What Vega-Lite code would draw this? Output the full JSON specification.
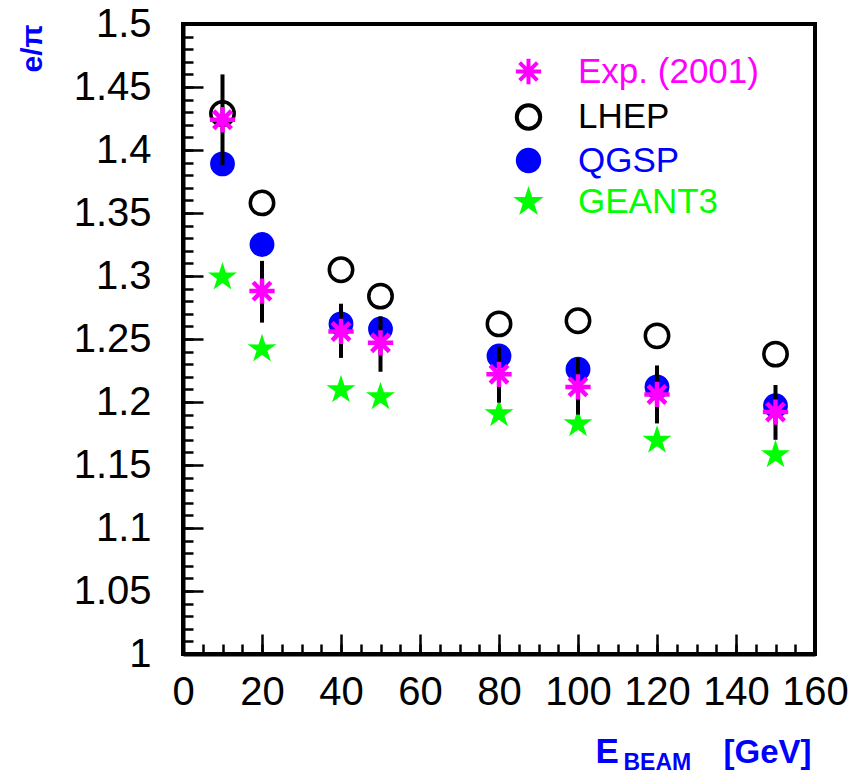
{
  "$schema": "https://vega.github.io/schema/vega-lite/v6.json",
  "width": 632,
  "height": 630,
  "autosize": "none",
  "padding": {"left": 183, "top": 24, "right": 40, "bottom": 120},
  "background": "white",
  "config": {
    "font": "Liberation Sans",
    "view": {"stroke": "black", "strokeWidth": 4},
    "axis": {"grid": false, "labelFont": "Liberation Sans", "titleFont": "Liberation Sans", "tickColor": "black", "domainColor": "black", "labelColor": "black"},
    "legend": {"title": null, "orient": "none", "legendX": 328, "legendY": 30, "labelFontSize": 35, "labelOffset": 32, "rowPadding": 3.5, "labelFont": "Liberation Sans", "labelLimit": 0, "symbolStrokeWidth": 4}
  },
  "datasets": {
    "sim": [
      {"E": 10, "series": "GEANT3", "ratio": 1.299},
      {"E": 20, "series": "GEANT3", "ratio": 1.242},
      {"E": 40, "series": "GEANT3", "ratio": 1.2095},
      {"E": 50, "series": "GEANT3", "ratio": 1.204},
      {"E": 80, "series": "GEANT3", "ratio": 1.1905},
      {"E": 100, "series": "GEANT3", "ratio": 1.1825},
      {"E": 120, "series": "GEANT3", "ratio": 1.1695},
      {"E": 150, "series": "GEANT3", "ratio": 1.158},
      {"E": 10, "series": "LHEP", "ratio": 1.429},
      {"E": 20, "series": "LHEP", "ratio": 1.358},
      {"E": 40, "series": "LHEP", "ratio": 1.305},
      {"E": 50, "series": "LHEP", "ratio": 1.284},
      {"E": 80, "series": "LHEP", "ratio": 1.262},
      {"E": 100, "series": "LHEP", "ratio": 1.2645},
      {"E": 120, "series": "LHEP", "ratio": 1.2525},
      {"E": 150, "series": "LHEP", "ratio": 1.238},
      {"E": 10, "series": "QGSP", "ratio": 1.389},
      {"E": 20, "series": "QGSP", "ratio": 1.325},
      {"E": 40, "series": "QGSP", "ratio": 1.262},
      {"E": 50, "series": "QGSP", "ratio": 1.258},
      {"E": 80, "series": "QGSP", "ratio": 1.2365},
      {"E": 100, "series": "QGSP", "ratio": 1.226},
      {"E": 120, "series": "QGSP", "ratio": 1.212},
      {"E": 150, "series": "QGSP", "ratio": 1.197}
    ],
    "exp": [
      {"E": 10, "series": "Exp. (2001)", "ratio": 1.424, "lo": 1.388, "hi": 1.46},
      {"E": 20, "series": "Exp. (2001)", "ratio": 1.288, "lo": 1.263, "hi": 1.312},
      {"E": 40, "series": "Exp. (2001)", "ratio": 1.256, "lo": 1.235, "hi": 1.278},
      {"E": 50, "series": "Exp. (2001)", "ratio": 1.247, "lo": 1.224, "hi": 1.268},
      {"E": 80, "series": "Exp. (2001)", "ratio": 1.222, "lo": 1.1995, "hi": 1.244},
      {"E": 100, "series": "Exp. (2001)", "ratio": 1.212, "lo": 1.19, "hi": 1.235},
      {"E": 120, "series": "Exp. (2001)", "ratio": 1.206, "lo": 1.183, "hi": 1.229},
      {"E": 150, "series": "Exp. (2001)", "ratio": 1.192, "lo": 1.17, "hi": 1.2135}
    ]
  },
  "layer": [
    {
      "data": {"name": "sim"},
      "mark": {"type": "point", "filled": false, "strokeWidth": 3.5, "opacity": 1},
      "encoding": {
        "x": {
          "field": "E", "type": "quantitative",
          "scale": {"domain": [0, 160], "nice": false, "zero": false},
          "axis": {
            "orient": "bottom", "values": [0, 20, 40, 60, 80, 100, 120, 140, 160],
            "tickSize": -20, "tickWidth": 2.5, "domainWidth": 4,
            "labelFontSize": 40, "labelPadding": 38, "labelOverlap": false, "labelFlush": false, "labelBound": false,
            "title": "E", "titleColor": "#0000ff", "titleFontSize": 35, "titleFontWeight": "bold",
            "titleAlign": "left", "titleBaseline": "alphabetic", "titleX": 412, "titleY": 108
          }
        },
        "y": {
          "field": "ratio", "type": "quantitative",
          "scale": {"domain": [1, 1.5], "nice": false, "zero": false},
          "axis": {
            "orient": "left", "values": [1, 1.05, 1.1, 1.15, 1.2, 1.25, 1.3, 1.35, 1.4, 1.45, 1.5],
            "format": ".2~f", "tickSize": -20, "tickWidth": 2.5, "domainWidth": 4,
            "labelFontSize": 40, "labelPadding": 52, "labelOverlap": false, "labelFlush": false, "labelBound": false,
            "title": "e/π", "titleColor": "#0000ff", "titleFontSize": 30, "titleFontWeight": "bold",
            "titleAngle": -90, "titleAlign": "right", "titleBaseline": "middle", "titleX": -151, "titleY": 0
          }
        },
        "color": {
          "field": "series", "type": "nominal",
          "scale": {"domain": ["Exp. (2001)", "LHEP", "QGSP", "GEANT3"], "range": ["#ff00ff", "#000000", "#0000ff", "#00ff00"]},
          "legend": {"labelColor": {"expr": "scale('color', datum.value)"}}
        },
        "fill": {
          "field": "series", "type": "nominal",
          "scale": {"domain": ["Exp. (2001)", "LHEP", "QGSP", "GEANT3"], "range": ["transparent", "transparent", "#0000ff", "#00ff00"]},
          "legend": {"labelColor": {"expr": "scale('color', datum.value)"}}
        },
        "shape": {
          "field": "series", "type": "nominal",
          "scale": {"domain": ["Exp. (2001)", "LHEP", "QGSP", "GEANT3"], "range": ["M-1,0L1,0M0,-1L0,1M-0.7,-0.7L0.7,0.7M-0.7,0.7L0.7,-0.7", "circle", "circle", "M0,-1L0.224,-0.307L0.951,-0.309L0.361,0.117L0.588,0.809L0,0.38L-0.588,0.809L-0.361,0.117L-0.951,-0.309L-0.224,-0.307Z"]},
          "legend": {"labelColor": {"expr": "scale('color', datum.value)"}}
        },
        "size": {
          "field": "series", "type": "nominal",
          "scale": {"domain": ["Exp. (2001)", "LHEP", "QGSP", "GEANT3"], "range": [640, 363, 300, 480]},
          "legend": {"labelColor": {"expr": "scale('color', datum.value)"}}
        }
      }
    },
    {
      "data": {"name": "exp"},
      "mark": {"type": "rule", "strokeWidth": 4, "color": "black"},
      "encoding": {
        "x": {
          "field": "E", "type": "quantitative",
          "axis": {
            "orient": "bottom", "values": [0, 5, 10, 15, 20, 25, 30, 35, 40, 45, 50, 55, 60, 65, 70, 75, 80, 85, 90, 95, 100, 105, 110, 115, 120, 125, 130, 135, 140, 145, 150, 155, 160],
            "tickSize": -10, "tickWidth": 2.5, "domain": false, "labels": false,
            "title": "BEAM", "titleColor": "#0000ff", "titleFontSize": 23, "titleFontWeight": "bold",
            "titleAlign": "left", "titleBaseline": "alphabetic", "titleX": 440, "titleY": 115
          }
        },
        "y": {
          "field": "lo", "type": "quantitative",
          "axis": {
            "orient": "left", "values": [1, 1.01, 1.02, 1.03, 1.04, 1.05, 1.06, 1.07, 1.08, 1.09, 1.1, 1.11, 1.12, 1.13, 1.14, 1.15, 1.16, 1.17, 1.18, 1.19, 1.2, 1.21, 1.22, 1.23, 1.24, 1.25, 1.26, 1.27, 1.28, 1.29, 1.3, 1.31, 1.32, 1.33, 1.34, 1.35, 1.36, 1.37, 1.38, 1.39, 1.4, 1.41, 1.42, 1.43, 1.44, 1.45, 1.46, 1.47, 1.48, 1.49, 1.5],
            "tickSize": -10, "tickWidth": 2.5, "domain": false, "labels": false, "title": null
          }
        },
        "y2": {"field": "hi"}
      }
    },
    {
      "data": {"name": "exp"},
      "mark": {"type": "point", "filled": false, "strokeWidth": 4.5, "opacity": 1},
      "encoding": {
        "x": {
          "field": "E", "type": "quantitative",
          "axis": {
            "orient": "bottom", "ticks": false, "domain": false, "labels": false,
            "title": "[GeV]", "titleColor": "#0000ff", "titleFontSize": 33, "titleFontWeight": "bold",
            "titleAlign": "left", "titleBaseline": "alphabetic", "titleX": 540, "titleY": 108
          }
        },
        "y": {"field": "ratio", "type": "quantitative", "axis": null},
        "color": {"field": "series", "type": "nominal"},
        "fill": {"field": "series", "type": "nominal"},
        "shape": {"field": "series", "type": "nominal"},
        "size": {"field": "series", "type": "nominal"}
      }
    }
  ],
  "resolve": {"axis": {"x": "independent", "y": "independent"}}
}
